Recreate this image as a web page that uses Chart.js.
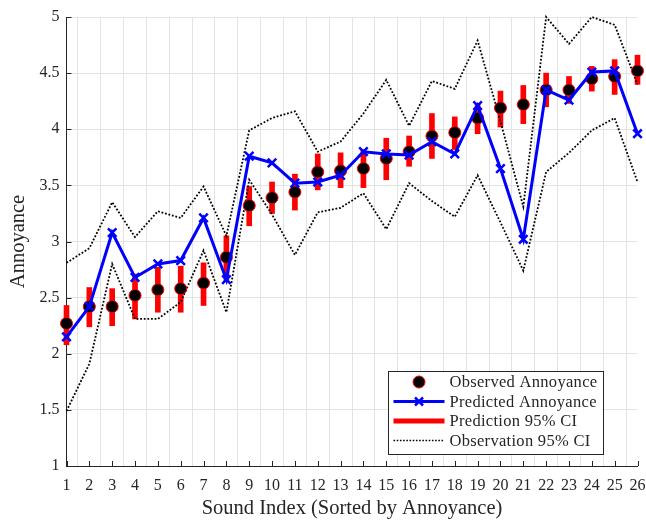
<!DOCTYPE html>
<html>
<head>
<meta charset="utf-8">
<script src="https://cdn.jsdelivr.net/npm/chart.js@4/dist/chart.umd.min.js"></script>
<style>
  html, body { margin: 0; padding: 0; background: #fff; }
  #wrap { width: 646px; height: 521px; position: relative; }
</style>
</head>
<body>
<div id="wrap"><canvas id="c" width="646" height="521"></canvas></div>
<script>
// Sound indices, sorted by observed annoyance
const soundIndex = ['1','2','3','4','5','6','7','8','9','10','11','12','13','14','15','16','17','18','19','20','21','22','23','24','25','26'];

// Mean observed annoyance per sound
const observed = [2.27,2.42,2.42,2.52,2.57,2.58,2.63,2.86,3.32,3.39,3.44,3.62,3.63,3.65,3.74,3.80,3.94,3.97,4.10,4.19,4.22,4.35,4.35,4.45,4.47,4.52];

// Model prediction
const predicted = [2.15,2.42,3.08,2.68,2.80,2.83,3.21,2.66,3.76,3.70,3.52,3.53,3.59,3.80,3.78,3.77,3.89,3.78,4.21,3.65,3.02,4.35,4.26,4.51,4.52,3.96];

// Prediction 95% confidence interval (lower / upper)
const predLow  = [2.08,2.24,2.25,2.31,2.37,2.37,2.43,2.65,3.14,3.25,3.28,3.46,3.48,3.48,3.55,3.67,3.74,3.82,3.96,4.02,4.05,4.20,4.23,4.34,4.31,4.40];
const predHigh = [2.43,2.59,2.58,2.71,2.77,2.78,2.81,3.05,3.49,3.53,3.60,3.78,3.79,3.82,3.92,3.94,4.14,4.11,4.23,4.34,4.39,4.50,4.47,4.56,4.62,4.66];

// Observation 95% confidence interval (upper / lower)
const obsHigh = [2.81,2.94,3.35,3.04,3.27,3.21,3.49,3.05,3.99,4.10,4.16,3.80,3.89,4.14,4.44,4.03,4.43,4.36,4.79,4.07,3.31,5.00,4.76,5.00,4.93,4.40];
const obsLow  = [1.49,1.91,2.80,2.31,2.31,2.46,2.92,2.37,3.55,3.24,2.88,3.26,3.30,3.43,3.11,3.52,3.36,3.22,3.59,3.17,2.74,3.62,3.79,3.99,4.10,3.53];

// Y axis range and tick step
const yMin = 1, yMax = 5, yStep = 0.5;

const SERIF = '"Liberation Serif", "DejaVu Serif", serif';

// Short inward tick marks on the left and bottom axes
const innerTicks = {
  id: 'innerTicks',
  afterDatasetsDraw(chart) {
    const { ctx, chartArea: a, scales: { x, y } } = chart;
    ctx.save();
    ctx.strokeStyle = '#262626';
    ctx.lineWidth = 1;
    ctx.beginPath();
    x.ticks.forEach((t, i) => {
      const px = Math.round(x.getPixelForTick(i)) + 0.5;
      ctx.moveTo(px, a.bottom);
      ctx.lineTo(px, a.bottom - 5);
    });
    y.ticks.forEach((t, i) => {
      const py = Math.round(y.getPixelForTick(i)) + 0.5;
      ctx.moveTo(a.left, py);
      ctx.lineTo(a.left + 5, py);
    });
    ctx.stroke();
    ctx.restore();
  }
};

// Boxed legend inside the lower right of the plot
const boxLegend = {
  id: 'boxLegend',
  afterDraw(chart) {
    const { ctx, chartArea: a } = chart;
    const w = 215, h = 83;
    const left = a.right - 35 - w, top = a.bottom - 12 - h;
    ctx.save();
    ctx.fillStyle = '#fff';
    ctx.fillRect(left, top, w, h);
    ctx.strokeStyle = '#262626';
    ctx.lineWidth = 1;
    ctx.strokeRect(Math.round(left) + 0.5, Math.round(top) + 0.5, w, h);
    const items = chart.data.datasets;
    const order = ['Observed Annoyance', 'Predicted Annoyance', 'Prediction 95% CI', 'Observation 95% CI'];
    const x0 = left + 6, x1 = left + 57, xm = (x0 + x1) / 2;
    order.forEach((label, i) => {
      const yy = top + 11 + i * 19.5;
      const ds = items.find(d => d.label === label);
      ctx.save();
      if (label === 'Observed Annoyance') {
        ctx.beginPath();
        ctx.arc(xm, yy, 6, 0, Math.PI * 2);
        ctx.fillStyle = ds.pointBackgroundColor;
        ctx.fill();
        ctx.strokeStyle = ds.pointBorderColor;
        ctx.lineWidth = 1;
        ctx.stroke();
      } else if (label === 'Predicted Annoyance') {
        ctx.strokeStyle = ds.borderColor;
        ctx.lineWidth = 3;
        ctx.beginPath(); ctx.moveTo(x0, yy); ctx.lineTo(x1, yy); ctx.stroke();
        ctx.lineWidth = 2.5;
        const r = 4;
        ctx.beginPath();
        ctx.moveTo(xm - r, yy - r); ctx.lineTo(xm + r, yy + r);
        ctx.moveTo(xm - r, yy + r); ctx.lineTo(xm + r, yy - r);
        ctx.stroke();
      } else if (label === 'Prediction 95% CI') {
        ctx.strokeStyle = ds.backgroundColor;
        ctx.lineWidth = 5;
        ctx.beginPath(); ctx.moveTo(x0, yy); ctx.lineTo(x1, yy); ctx.stroke();
      } else {
        ctx.strokeStyle = ds.borderColor;
        ctx.lineWidth = 1.6;
        ctx.setLineDash([1.6, 1.6]);
        ctx.beginPath(); ctx.moveTo(x0, yy); ctx.lineTo(x1, yy); ctx.stroke();
      }
      ctx.restore();
      ctx.save();
      ctx.fillStyle = '#262626';
      ctx.font = '16.5px ' + SERIF;
      if ('letterSpacing' in ctx) ctx.letterSpacing = '0.3px';
      ctx.textBaseline = 'middle';
      ctx.textAlign = 'left';
      ctx.fillText(label, x1 + 5, yy + 1);
      ctx.restore();
    });
    ctx.restore();
  }
};

const dotted = { borderColor: '#000', borderWidth: 1.8, borderDash: [1.8, 1.8], pointRadius: 0, fill: false, tension: 0 };

new Chart(document.getElementById('c'), {
  data: {
    labels: soundIndex,
    datasets: [
      {
        type: 'line', label: 'Predicted Annoyance', data: predicted, order: 1,
        borderColor: '#0000ff', borderWidth: 3, tension: 0,
        pointStyle: 'crossRot', pointRadius: 6, pointBorderWidth: 2.5,
        pointBorderColor: '#0000ff', pointBackgroundColor: '#0000ff', clip: false
      },
      {
        type: 'line', label: 'Observed Annoyance', data: observed, order: 2,
        showLine: false, pointStyle: 'circle', pointRadius: 6, pointBorderWidth: 1,
        pointBackgroundColor: '#000', pointBorderColor: '#ff0000', clip: false
      },
      Object.assign({ type: 'line', label: 'Observation 95% CI', data: obsHigh, order: 3, clip: false }, dotted),
      Object.assign({ type: 'line', label: 'Observation 95% CI (lower)', data: obsLow, order: 3, clip: false }, dotted),
      {
        type: 'bar', label: 'Prediction 95% CI', order: 4,
        data: predLow.map((lo, i) => [lo, predHigh[i]]),
        backgroundColor: '#ff0000', borderWidth: 0, barThickness: 5, clip: false
      }
    ]
  },
  options: {
    responsive: false,
    animation: false,
    events: [],
    layout: { padding: { left: 0, top: 17, right: 0, bottom: 0 } },
    plugins: { legend: { display: false }, tooltip: { enabled: false } },
    scales: {
      x: {
        type: 'category', offset: false,
        grid: { color: '#e3e3e3', lineWidth: 1, drawTicks: false },
        border: { display: true, color: '#262626', width: 1 },
        ticks: { color: '#262626', font: { family: SERIF, size: 16 }, padding: 10, maxRotation: 0, autoSkip: false },
        title: { display: true, text: 'Sound Index (Sorted by Annoyance)', color: '#262626', font: { family: SERIF, size: 20.5 }, padding: { top: 0, bottom: 0 } },
        afterFit(s) { s.height = 55; s.paddingRight = 8.5; s.paddingLeft = 0; }
      },
      y: {
        min: yMin, max: yMax,
        grid: { color: '#e3e3e3', lineWidth: 1, drawTicks: false },
        border: { display: true, color: '#262626', width: 1 },
        ticks: { stepSize: yStep, color: '#262626', font: { family: SERIF, size: 16 }, padding: 7, callback: v => String(v) },
        title: { display: true, text: 'Annoyance', color: '#262626', font: { family: SERIF, size: 20.5 }, padding: { top: 6, bottom: 0 } },
        afterFit(s) { s.width = 66.5; s.paddingTop = 0; s.paddingBottom = 0; }
      }
    }
  },
  plugins: [innerTicks, boxLegend]
});
</script>
</body>
</html>
